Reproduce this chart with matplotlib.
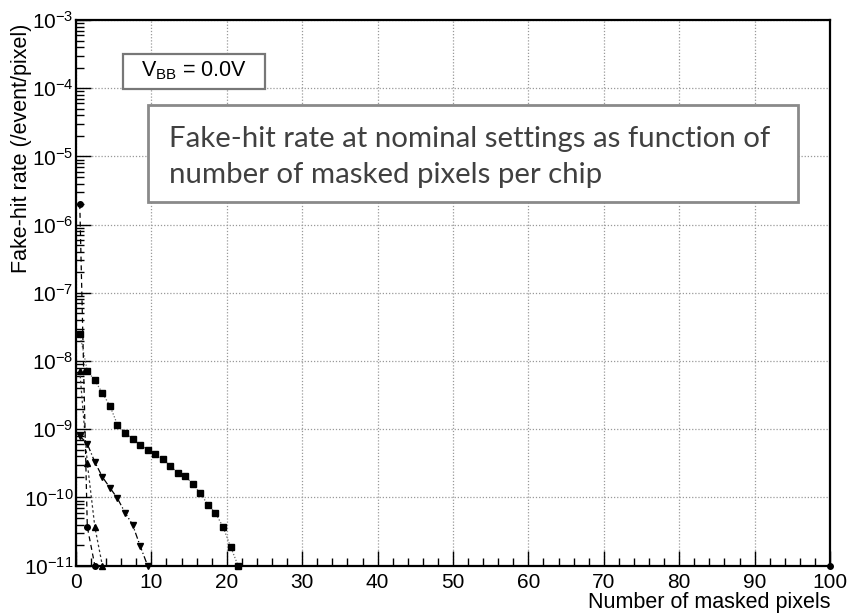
import numpy as np
import matplotlib
matplotlib.use("Agg")
import matplotlib.pyplot as plt
from matplotlib.patches import Rectangle
from matplotlib.ticker import LogLocator, MultipleLocator, NullFormatter

plt.rcParams['font.family'] = ['Liberation Sans', 'DejaVu Sans']
plt.rcParams['mathtext.fontset'] = 'custom'
plt.rcParams['mathtext.rm'] = 'Liberation Sans'
plt.rcParams['mathtext.it'] = 'Liberation Sans:italic'
plt.rcParams['mathtext.bf'] = 'Liberation Sans:bold'

# ---- data (zero = below axis range, drawn on the bottom edge as in ROOT) ----
x_sq = [0.5, 1.5, 2.5, 3.5, 4.5, 5.5, 6.5, 7.5, 8.5, 9.5, 10.5, 11.5, 12.5,
        13.5, 14.5, 15.5, 16.5, 17.5, 18.5, 19.5, 20.5, 21.5]
y_sq = [2.5e-8, 7.2e-9, 5.2e-9, 3.4e-9, 2.2e-9, 1.17e-9, 8.9e-10, 7.2e-10,
        5.9e-10, 5.0e-10, 4.3e-10, 3.7e-10, 2.9e-10, 2.3e-10, 2.07e-10,
        1.56e-10, 1.15e-10, 7.8e-11, 5.9e-11, 3.7e-11, 1.9e-11, 0.0]

x_tdn = [0.5, 1.5, 2.5, 3.5, 4.5, 5.5, 6.5, 7.5, 8.5, 9.5]
y_tdn = [8.0e-10, 6.1e-10, 3.3e-10, 2.0e-10, 1.39e-10, 9.7e-11, 6.0e-11,
         4.0e-11, 1.96e-11, 0.0]

x_tup = [0.5, 1.5, 2.5, 3.5]
y_tup = [7.2e-9, 3.2e-10, 3.7e-11, 0.0]

x_circ = [0.5, 1.5, 2.5, 100.0]
y_circ = [2.0e-6, 3.7e-11, 0.0, 0.0]

x_ticks = [0, 10, 20, 30, 40, 50, 60, 70, 80, 90, 100]
xlabel = "Number of masked pixels"
ylabel = "Fake-hit rate (/event/pixel)"
vbb_text = r"V$_{\mathregular{BB}}$ = 0.0V"
note_lines = ["Fake-hit rate at nominal settings as function of",
              "number of masked pixels per chip"]

YMIN, YMAX = 1e-11, 1e-3
W, H = 852, 614

fig = plt.figure(figsize=(W / 100, H / 100), dpi=100)
L, R, T, B = 76, 830, 20, 565.7
ax = fig.add_axes([L / W, (H - B) / H, (R - L) / W, (B - T) / H])
ax.set_yscale('log')
ax.set_xlim(0, 100)
ax.set_ylim(YMIN, YMAX)


def draw(xs, ys, marker, ls, color, ms, lw=0.9):
    ys = np.asarray(ys, dtype=float)
    yd = np.where(ys > 0, ys, YMIN)
    ax.plot(xs, yd, linestyle=ls, color=color, lw=lw, marker=marker,
            ms=ms, mfc='black', mec='black', clip_on=False, zorder=3)


draw(x_sq, y_sq, 's', (0, (1, 1.5)), '#666666', 5)
draw(x_tdn, y_tdn, 'v', (0, (5, 2, 1, 2)), 'black', 5)
draw(x_tup, y_tup, '^', (0, (2, 2)), '#333333', 4.5)
draw(x_circ, y_circ, 'o', (0, (4, 3)), 'black', 4)

# ticks and grid, ROOT style
ax.set_xticks(x_ticks)
ax.xaxis.set_minor_locator(MultipleLocator(2))
ax.yaxis.set_major_locator(LogLocator(base=10, numticks=20))
ax.yaxis.set_minor_locator(LogLocator(base=10, subs=np.arange(2, 10), numticks=20))
ax.yaxis.set_minor_formatter(NullFormatter())
ax.xaxis.set_minor_formatter(NullFormatter())
ax.tick_params(which='both', direction='in', top=False, right=False,
               labelsize=15, width=1.0, color='black')
ax.tick_params(which='major', length=11)
ax.tick_params(which='minor', length=6)
ax.tick_params(axis='x', pad=5)
ax.tick_params(axis='y', pad=2)
ax.grid(True, which='major', linestyle=(0, (1, 1.5)), color='#999999', lw=0.9)
for s in ax.spines.values():
    s.set_linewidth(1.6)
    s.set_color('black')

ax.set_xlabel(xlabel, fontsize=15.5, loc='right', labelpad=0)
ax.set_ylabel(ylabel, fontsize=15.5, loc='top')
ax.yaxis.set_label_coords((32 - L) / (R - L), 1 - 4 / (B - T))

# V_BB box
fig.patches.append(Rectangle((123.3 / W, (H - 89.3) / H), (265 - 123.3) / W,
                             (89.3 - 54.3) / H, transform=fig.transFigure,
                             fill=True, facecolor='white', edgecolor='#777777',
                             lw=1.6, zorder=5))
fig.text(194 / W, (H - 71) / H, vbb_text, fontsize=15.5, ha='center', va='center',
         zorder=6)

# note box
fig.patches.append(Rectangle((148.3 / W, (H - 201.7) / H), (798 - 148.3) / W,
                             (201.7 - 105) / H, transform=fig.transFigure,
                             fill=True, facecolor='white', edgecolor='#8a8a8a',
                             lw=2.0, zorder=5))
t1 = fig.text(169 / W, (H - 146.7) / H, note_lines[0], fontsize=20,
              family=['Lato', 'DejaVu Sans'], color='#404040', ha='left',
              va='baseline', zorder=6)
t2 = fig.text(169 / W, (H - 183) / H, note_lines[1], fontsize=20,
              family=['Lato', 'DejaVu Sans'], color='#404040', ha='left',
              va='baseline', zorder=6)
fig.canvas.draw()
wpx = t1.get_window_extent().width
fs = 20 * 603.0 / wpx
t1.set_fontsize(fs)
t2.set_fontsize(fs)

fig.savefig("out.png", dpi=100)
